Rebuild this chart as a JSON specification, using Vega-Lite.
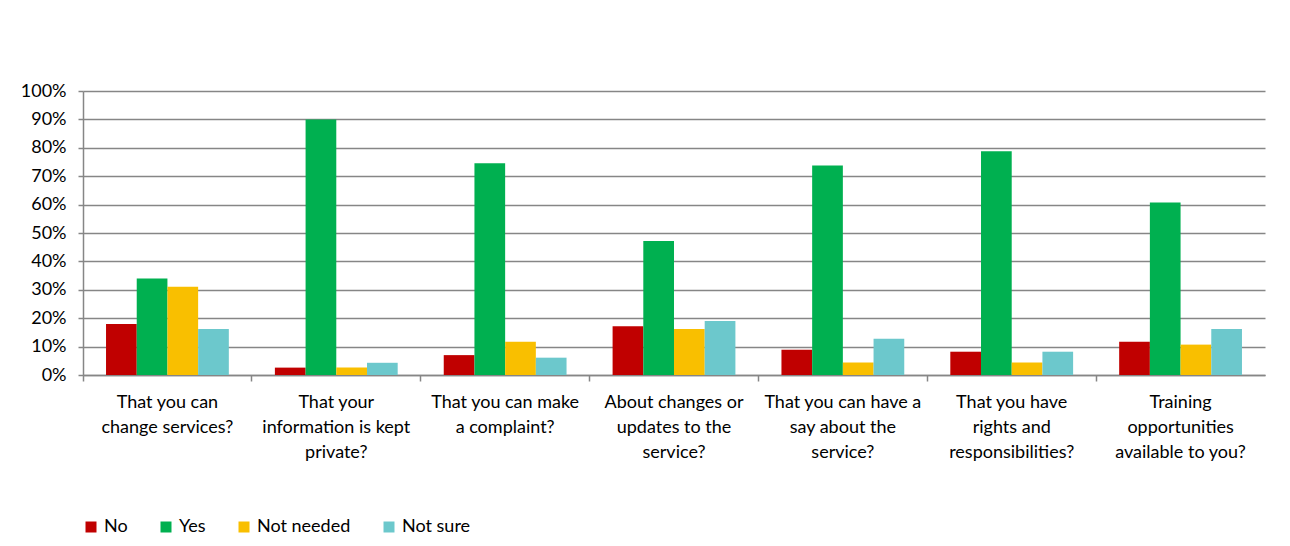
{
  "$schema": "https://vega.github.io/schema/vega-lite/v6.json",
  "autosize": "none",
  "width": 1182,
  "height": 284,
  "padding": {"left": 83, "top": 91, "right": 25, "bottom": 171},
  "background": "white",
  "data": {
    "values": [
      {"q": "That you can|change services?", "r": "No", "v": 0.180},
      {"q": "That you can|change services?", "r": "Yes", "v": 0.340},
      {"q": "That you can|change services?", "r": "Not needed", "v": 0.311},
      {"q": "That you can|change services?", "r": "Not sure", "v": 0.162},
      {"q": "That your|information is kept|private?", "r": "No", "v": 0.026},
      {"q": "That your|information is kept|private?", "r": "Yes", "v": 0.900},
      {"q": "That your|information is kept|private?", "r": "Not needed", "v": 0.026},
      {"q": "That your|information is kept|private?", "r": "Not sure", "v": 0.043},
      {"q": "That you can make|a complaint?", "r": "No", "v": 0.070},
      {"q": "That you can make|a complaint?", "r": "Yes", "v": 0.746},
      {"q": "That you can make|a complaint?", "r": "Not needed", "v": 0.117},
      {"q": "That you can make|a complaint?", "r": "Not sure", "v": 0.061},
      {"q": "About changes or|updates to the|service?", "r": "No", "v": 0.172},
      {"q": "About changes or|updates to the|service?", "r": "Yes", "v": 0.472},
      {"q": "About changes or|updates to the|service?", "r": "Not needed", "v": 0.162},
      {"q": "About changes or|updates to the|service?", "r": "Not sure", "v": 0.190},
      {"q": "That you can have a|say about the|service?", "r": "No", "v": 0.089},
      {"q": "That you can have a|say about the|service?", "r": "Yes", "v": 0.738},
      {"q": "That you can have a|say about the|service?", "r": "Not needed", "v": 0.044},
      {"q": "That you can have a|say about the|service?", "r": "Not sure", "v": 0.128},
      {"q": "That you have|rights and|responsibilities?", "r": "No", "v": 0.082},
      {"q": "That you have|rights and|responsibilities?", "r": "Yes", "v": 0.788},
      {"q": "That you have|rights and|responsibilities?", "r": "Not needed", "v": 0.044},
      {"q": "That you have|rights and|responsibilities?", "r": "Not sure", "v": 0.082},
      {"q": "Training|opportunities|available to you?", "r": "No", "v": 0.117},
      {"q": "Training|opportunities|available to you?", "r": "Yes", "v": 0.607},
      {"q": "Training|opportunities|available to you?", "r": "Not needed", "v": 0.107},
      {"q": "Training|opportunities|available to you?", "r": "Not sure", "v": 0.162}
    ]
  },
  "mark": {"type": "bar"},
  "encoding": {
    "x": {
      "field": "q", "type": "nominal", "sort": null, "title": null,
      "scale": {"paddingInner": 0, "paddingOuter": 0},
      "axis": {
        "labelAngle": 0,
        "labelExpr": "split(datum.value, '|')",
        "labelFont": "Lato", "labelFontSize": 18, "labelColor": "#000000",
        "labelLineHeight": 25, "labelPadding": 12,
        "bandPosition": 0, "tickSize": 6, "tickColor": "#868686", "tickWidth": 1.5,
        "domainColor": "#868686", "domainWidth": 1.5,
        "grid": false, "labelLimit": 220
      }
    },
    "xOffset": {
      "field": "r", "type": "nominal", "sort": ["No", "Yes", "Not needed", "Not sure"],
      "scale": {"paddingInner": 0, "paddingOuter": 0.75}
    },
    "y": {
      "field": "v", "type": "quantitative", "title": null,
      "scale": {"domain": [0, 1]},
      "axis": {
        "format": ".0%", "values": [0, 0.1, 0.2, 0.3, 0.4, 0.5, 0.6, 0.7, 0.8, 0.9, 1],
        "labelFont": "Lato", "labelFontSize": 18, "labelColor": "#000000",
        "labelPadding": 12, "tickSize": 5, "tickColor": "#868686", "tickWidth": 1.5,
        "domainColor": "#868686", "domainWidth": 1.5,
        "grid": true, "gridColor": "#868686", "gridWidth": 1.5
      }
    },
    "color": {
      "field": "r", "type": "nominal", "sort": ["No", "Yes", "Not needed", "Not sure"],
      "scale": {"domain": ["No", "Yes", "Not needed", "Not sure"], "range": ["#C00000", "#00B050", "#F9BF00", "#6CC8CC"]},
      "legend": {
        "title": null, "orient": "none", "direction": "horizontal",
        "legendX": -1, "legendY": 427,
        "symbolType": "square", "symbolSize": 121, "symbolStrokeWidth": 0,
        "labelFont": "Lato", "labelFontSize": 18, "labelColor": "#000000",
        "labelOffset": 4, "columnPadding": 29
      }
    }
  },
  "config": {"view": {"stroke": null}}
}
